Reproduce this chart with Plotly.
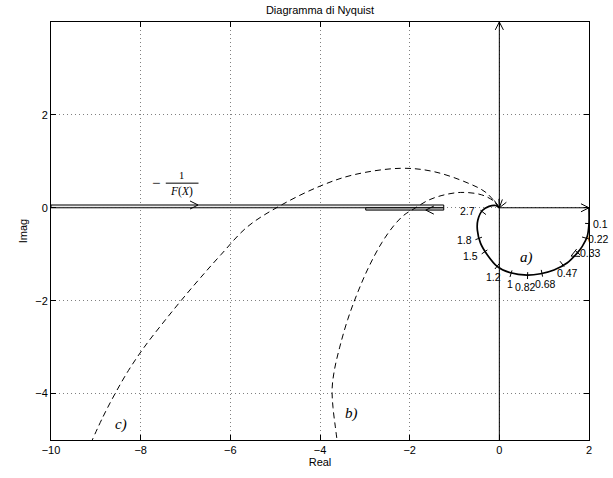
import numpy as np
import plotly.graph_objects as go

# ---- Nyquist locus a) (solid) ----
a_re = [2.0, 2.0, 1.96, 1.85, 1.74, 1.51, 1.22, 0.92, 0.62, 0.25, -0.05, -0.27,
        -0.42, -0.49, -0.48, -0.38, -0.23, -0.08, 0.0]
a_im = [0.0, -0.34, -0.62, -0.83, -0.97, -1.19, -1.34, -1.42, -1.45, -1.40, -1.26,
        -1.01, -0.76, -0.48, -0.27, -0.06, 0.03, 0.05, 0.0]

# frequency marks along a)
w_labels = ["0.1", "0.22", "0.33", "0.47", "0.68", "0.82", "1", "1.2", "1.5", "1.8", "2.7"]
w_re = [1.99, 1.92, 1.75, 1.40, 0.95, 0.63, 0.26, -0.05, -0.33, -0.46, -0.36]
w_im = [-0.34, -0.65, -0.97, -1.21, -1.41, -1.46, -1.42, -1.26, -0.95, -0.66, -0.10]
w_lab_re = [2.26, 2.21, 2.04, 1.51, 1.02, 0.59, 0.24, -0.13, -0.64, -0.78, -0.71]
w_lab_im = [-0.34, -0.68, -0.98, -1.41, -1.64, -1.70, -1.65, -1.50, -1.03, -0.69, -0.07]

# ---- Nyquist locus b) (dashed) ----
b_re = [0.0, -0.12, -0.40, -0.87, -1.30, -1.61, -1.90, -2.13, -2.35, -2.62, -2.90,
        -3.15, -3.38, -3.56, -3.68, -3.73, -3.71, -3.66, -3.62]
b_im = [0.0, 0.14, 0.28, 0.33, 0.26, 0.15, -0.02, -0.16, -0.38, -0.75, -1.25,
        -1.80, -2.40, -3.00, -3.50, -3.90, -4.30, -4.70, -5.00]

# ---- Nyquist locus c) (dashed) ----
c_re = [0.0, -0.30, -0.72, -1.47, -2.20, -3.25, -3.99, -4.88, -5.62, -6.20, -6.66,
        -7.10, -7.52, -7.92, -8.27, -8.57, -8.84, -9.08]
c_im = [0.0, 0.33, 0.54, 0.78, 0.85, 0.71, 0.47, 0.05, -0.41, -1.00, -1.50,
        -2.00, -2.50, -3.00, -3.50, -4.00, -4.50, -5.00]

# ---- describing-function locus -1/F(X) (two bands on the real axis) ----
band1_re = [-10.0, -1.24]     # outgoing branch
band1_im = [0.0, 0.06]
band2_re = [-2.98, -1.24]     # returning branch
band2_im = [-0.05, 0.0]

# axes ranges and ticks
x_range = [-10, 2]
y_range = [-5, 4]
x_ticks = [-10, -8, -6, -4, -2, 0, 2]
y_ticks = [-4, -2, 0, 2]

W, H = 613, 478
ML, MR, MT, MB = 51, 24, 22, 32
PW, PH = W - ML - MR, H - MT - MB
SX = PW / (x_range[1] - x_range[0])   # px per unit
SY = PH / (y_range[1] - y_range[0])


def to_paper(x, y):
    """Data coordinates -> paper fractions (lets labels sit past the axis limits)."""
    return ((x - x_range[0]) / (x_range[1] - x_range[0]),
            (y - y_range[0]) / (y_range[1] - y_range[0]))


def chevron(xt, yt, ang_deg, length=8.0, spread=27.0):
    """Open arrowhead with tip at (xt, yt) pointing along ang_deg (screen degrees)."""
    xs, ys = [], []
    for s in (+spread, -spread):
        a = np.deg2rad(ang_deg + 180 + s)
        xs += [xt + length * np.cos(a) / SX, xt, None]
        ys += [yt + length * np.sin(a) / SY, yt, None]
    return xs, ys


def tangent_angle(xs, ys, i):
    i0, i1 = max(i - 1, 0), min(i + 1, len(xs) - 1)
    return np.degrees(np.arctan2((ys[i1] - ys[i0]) * SY, (xs[i1] - xs[i0]) * SX))


fig = go.Figure()
blk = "black"

# imaginary axis and positive real axis
fig.add_trace(go.Scatter(x=[0, 0], y=y_range, mode="lines",
                         line=dict(color=blk, width=1), hoverinfo="skip"))
fig.add_trace(go.Scatter(x=[0, x_range[1]], y=[0, 0], mode="lines",
                         line=dict(color=blk, width=1), hoverinfo="skip"))

# bands of -1/F(X)
for bx, by, fc in ((band1_re, band1_im, "#ececec"), (band2_re, band2_im, "#c4c4c4")):
    fig.add_trace(go.Scatter(x=[bx[0], bx[1], bx[1], bx[0], bx[0]],
                             y=[by[0], by[0], by[1], by[1], by[0]],
                             mode="lines", fill="toself", fillcolor=fc,
                             line=dict(color=blk, width=1), hoverinfo="skip"))

# dashed loci
for xs, ys in ((b_re, b_im), (c_re, c_im)):
    fig.add_trace(go.Scatter(x=xs, y=ys, mode="lines",
                             line=dict(color=blk, width=1, dash="6px,4px", shape="spline",
                                       smoothing=1.0),
                             hoverinfo="skip"))

# solid locus a)
fig.add_trace(go.Scatter(x=a_re, y=a_im, mode="lines",
                         line=dict(color=blk, width=1.7, shape="spline", smoothing=0.8),
                         hoverinfo="skip"))

# frequency tick marks across a)
tx, ty = [], []
pa = np.column_stack([np.array(a_re) * SX, np.array(a_im) * SY])
for xr, yi in zip(w_re, w_im):
    i = int(np.argmin(np.hypot(pa[:, 0] - xr * SX, pa[:, 1] - yi * SY)))
    n = np.deg2rad(tangent_angle(a_re, a_im, i) + 90)
    h = 3.5
    tx += [xr - h * np.cos(n) / SX, xr + h * np.cos(n) / SX, None]
    ty += [yi - h * np.sin(n) / SY, yi + h * np.sin(n) / SY, None]
fig.add_trace(go.Scatter(x=tx, y=ty, mode="lines", line=dict(color=blk, width=1),
                         hoverinfo="skip"))

# arrowheads
arrows = [
    (0.0, y_range[1], 90.0),                     # imaginary axis
    (x_range[1], 0.0, 0.0),                      # real axis
    (-6.72, band1_im[1], 0.0),                   # outgoing -1/F(X)
    (-1.64, band2_im[0], 180.0),                 # returning -1/F(X)
    (1.60, -1.04, 205.0),                        # direction along a)
    (0.0, 0.0, tangent_angle(b_re[::-1], b_im[::-1], 0) + 180),
    (0.0, 0.0, tangent_angle(c_re[::-1], c_im[::-1], 0) + 180),
]
ax_, ay_ = [], []
for xt, yt, ang in arrows:
    cx, cy = chevron(xt, yt, ang, length=9.0)
    ax_ += cx
    ay_ += cy
fig.add_trace(go.Scatter(x=ax_, y=ay_, mode="lines", line=dict(color=blk, width=1),
                         hoverinfo="skip"))

annotations = []
# frequency labels
for lab, xx, yy in zip(w_labels, w_lab_re, w_lab_im):
    px_, py_ = to_paper(xx, yy)
    annotations.append(dict(x=px_, y=py_, xref="paper", yref="paper", text=lab,
                            xanchor="center", yanchor="middle", showarrow=False,
                            font=dict(family="Liberation Sans", size=10.5, color=blk)))

serif = "Liberation Serif"
for txt, xx, yy in (("a)", 0.60, -1.07), ("b)", -3.29, -4.42), ("c)", -8.43, -4.66)):
    annotations.append(dict(x=xx, y=yy, text="<i>" + txt + "</i>", showarrow=False,
                            font=dict(family=serif, size=15, color=blk)))

# label -1/F(X) written as a fraction
annotations += [
    dict(x=-7.66, y=0.53, text="\u2212", showarrow=False,
         font=dict(family=serif, size=15, color=blk)),
    dict(x=-7.08, y=0.70, text="1", showarrow=False,
         font=dict(family=serif, size=10.5, color=blk)),
    dict(x=-7.08, y=0.36, text="<i>F</i>(<i>X</i>)", showarrow=False,
         font=dict(family=serif, size=11.5, color=blk)),
]
shapes = [dict(type="line", x0=-7.44, x1=-6.71, y0=0.53, y1=0.53,
               line=dict(color=blk, width=1))]

axis_common = dict(
    showline=True, linecolor=blk, linewidth=1, mirror="ticks",
    ticks="inside", ticklen=5, tickcolor=blk, tickwidth=1,
    showgrid=True, gridcolor="#808080", gridwidth=1, griddash="1px,3px",
    zeroline=False,
    tickfont=dict(family="Liberation Sans", size=11, color=blk),
)

fig.update_layout(
    width=W, height=H,
    margin=dict(l=ML, r=MR, t=MT, b=MB),
    paper_bgcolor="white", plot_bgcolor="white",
    showlegend=False,
    title=dict(text="Diagramma di Nyquist", x=0.5 * (ML + W - MR) / W, xanchor="center",
               y=1 - 10 / H, yanchor="middle",
               font=dict(family="Liberation Sans", size=11, color=blk)),
    xaxis=dict(range=x_range, tickvals=x_ticks, **axis_common,
               title=dict(text="Real", standoff=2,
                          font=dict(family="Liberation Sans", size=11, color=blk))),
    yaxis=dict(range=y_range, tickvals=y_ticks, **axis_common,
               title=dict(text="Imag", standoff=5,
                          font=dict(family="Liberation Sans", size=11, color=blk))),
    annotations=annotations,
    shapes=shapes,
)

fig.write_html("out.html")
